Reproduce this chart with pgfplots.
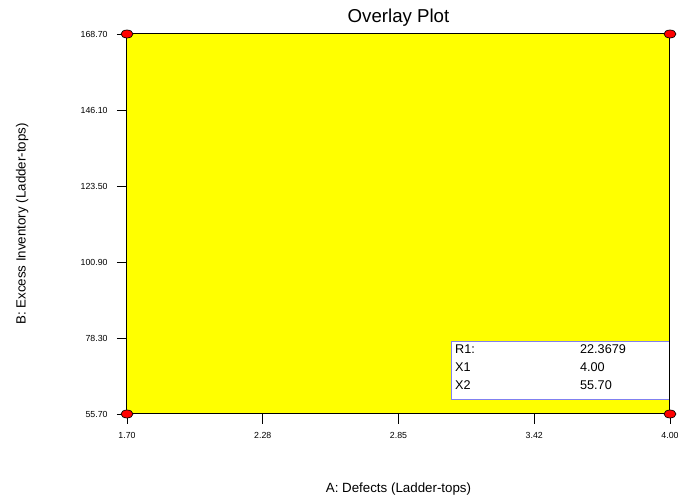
\documentclass[border=0pt]{standalone}
\usepackage{pgfplots}
\pgfplotsset{compat=1.18}
\usepackage{fontspec}
\setmainfont{Liberation Sans}
\definecolor{boxblue}{HTML}{8080F0}
\definecolor{fillyellow}{HTML}{FFFF00}

\begin{document}
\begin{tikzpicture}[x=1pt,y=1pt]
% page frame: 690x502 px at 0.75 pt/px
\path (-95.25,-66) rectangle (422.25,310.5);
\begin{axis}[
  at={(0,0)}, anchor=south west,
  width=407.25pt, height=285pt,
  scale only axis,
  xmin=1.70, xmax=4.00,
  ymin=55.70, ymax=168.70,
  xtick={1.70,2.275,2.85,3.425,4.00},
  xticklabels={1.70,2.28,2.85,3.42,4.00},
  ytick={55.70,78.30,100.90,123.50,146.10,168.70},
  yticklabels={55.70,78.30,100.90,123.50,146.10,168.70},
  tick pos=left, tick align=outside,
  major tick length=7.5pt,
  tick style={black, line width=0.6pt},
  axis line style={black, line width=0.75pt},
  ticklabel style={font=\fontsize{6.6}{7}\selectfont},
  xticklabel style={yshift=-2.5pt},
  yticklabel style={xshift=-3.5pt},
  title={Overlay Plot},
  every axis title/.style={at={(axis description cs:0.5,1.042)}, anchor=center, font=\fontsize{14}{16}\selectfont},
  xlabel={A: Defects (Ladder-tops)},
  ylabel={B: Excess Inventory (Ladder-tops)},
  xlabel style={font=\fontsize{10}{12}\selectfont, at={(axis description cs:0.5,-0.197)}, anchor=center},
  ylabel style={font=\fontsize{10}{12}\selectfont, at={(axis description cs:-0.193,0.5)}, anchor=center},
  clip=false,
  axis on top,
]
\addplot[fill=fillyellow, draw=none] coordinates {(1.70,55.70) (4.00,55.70) (4.00,168.70) (1.70,168.70)} -- cycle;

\draw[fill=white, draw=boxblue, line width=0.6pt] (rel axis cs:0.597,0.039) rectangle (rel axis cs:0.998,0.192);
\node[anchor=west, inner sep=0pt, font=\fontsize{9.5}{11}\selectfont] at (rel axis cs:0.604,0.171) {R1:};
\node[anchor=west, inner sep=0pt, font=\fontsize{9.5}{11}\selectfont] at (rel axis cs:0.834,0.171) {22.3679};
\node[anchor=west, inner sep=0pt, font=\fontsize{9.5}{11}\selectfont] at (rel axis cs:0.604,0.124) {X1};
\node[anchor=west, inner sep=0pt, font=\fontsize{9.5}{11}\selectfont] at (rel axis cs:0.834,0.124) {4.00};
\node[anchor=west, inner sep=0pt, font=\fontsize{9.5}{11}\selectfont] at (rel axis cs:0.604,0.076) {X2};
\node[anchor=west, inner sep=0pt, font=\fontsize{9.5}{11}\selectfont] at (rel axis cs:0.834,0.076) {55.70};

\addplot[only marks, mark=*, mark size=3pt, mark options={fill=red, draw=black, line width=0.5pt, xscale=1.5}]
  coordinates {(1.70,55.70) (1.70,168.70) (4.00,168.70) (4.00,55.70)};
\end{axis}
\end{tikzpicture}
\end{document}
